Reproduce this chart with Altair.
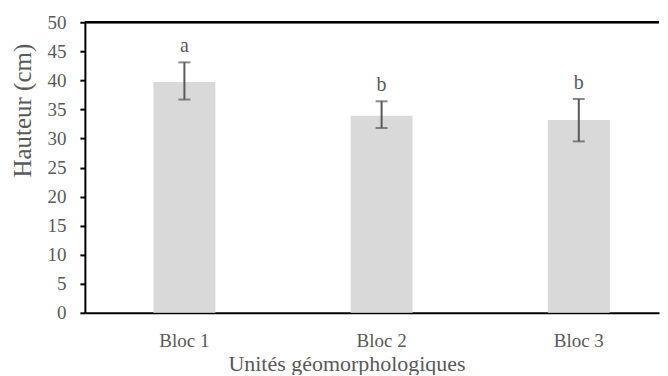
import altair as alt
import pandas as pd

categories = ["Bloc 1", "Bloc 2", "Bloc 3"]
means = [39.7, 33.9, 33.2]
upper = [43.1, 36.4, 36.8]
lower = [36.7, 31.8, 29.5]
letters = ["a", "b", "b"]
y_ticks = [0, 5, 10, 15, 20, 25, 30, 35, 40, 45, 50]

df = pd.DataFrame({"bloc": categories, "mean": means, "hi": upper, "lo": lower, "lab": letters})

FONT = "Liberation Serif"
GREY = "#595959"
W, H = 575, 291

xscale = alt.Scale(domain=categories, paddingInner=0.686, paddingOuter=0.2987, align=0.582)
yscale = alt.Scale(domain=[0, 50], nice=False)

x_axis = alt.Axis(title="Unités géomorphologiques", labelAngle=0, ticks=False,
                  domainColor="black", domainWidth=2, labelPadding=19,
                  labelFont=FONT, labelFontSize=19, labelColor=GREY,
                  titleFont=FONT, titleFontSize=22, titleColor=GREY,
                  titleFontWeight="normal", titleX=262, titleY=58,
                  titleBaseline="alphabetic", titleAlign="center")
y_axis = alt.Axis(title="Hauteur (cm)", values=y_ticks, grid=False,
                  labelOverlap=False,
                  domainColor="black", domainWidth=2, tickColor="black",
                  tickWidth=2, tickSize=5, labelPadding=14,
                  labelFont=FONT, labelFontSize=19, labelColor=GREY,
                  titleFont=FONT, titleFontSize=25, titleColor=GREY,
                  titleFontWeight="normal", titleX=-62, titleY=88,
                  titleBaseline="middle", titleAlign="center")

xs = alt.X("bloc:N", scale=xscale, sort=categories, axis=x_axis)
ys = alt.Y("v:Q", scale=yscale, axis=y_axis)

base = alt.Chart(df)

bars = base.transform_calculate(v="datum.mean").mark_bar(color="#d9d9d9").encode(x=xs, y=ys)

rules = base.transform_calculate(v="datum.lo").mark_rule(color=GREY, strokeWidth=2).encode(
    x=xs, y=ys, y2="hi:Q")

cap_hi = base.transform_calculate(v="datum.hi").mark_tick(
    color=GREY, thickness=2, size=12, orient="horizontal").encode(x=xs, y=ys)
cap_lo = base.transform_calculate(v="datum.lo").mark_tick(
    color=GREY, thickness=2, size=12, orient="horizontal").encode(x=xs, y=ys)

text = base.transform_calculate(v="datum.hi").mark_text(
    font=FONT, fontSize=20, color=GREY, dy=-10, baseline="alphabetic").encode(
    x=xs, y=ys, text="lab:N")

top_line = base.transform_calculate(v="50").mark_rule(color="black", strokeWidth=2).encode(
    y=ys, x=alt.value(0), x2=alt.value(W))

chart = alt.layer(bars, rules, cap_hi, cap_lo, text, top_line).properties(
    width=W, height=H, background="white",
    padding={"left": 2, "top": 5, "right": 0, "bottom": 0}
).configure_view(strokeWidth=0, stroke="transparent")

chart.save("out.html", embed_options={"renderer": "svg", "actions": False})
